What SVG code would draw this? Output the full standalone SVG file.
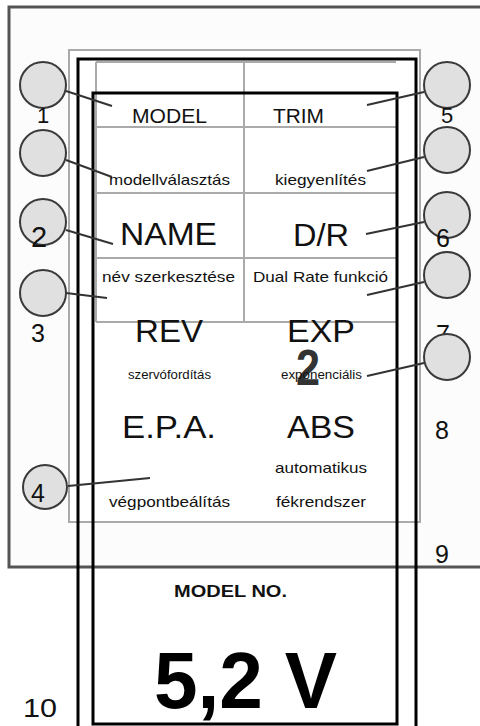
<svg xmlns="http://www.w3.org/2000/svg" width="480" height="726" viewBox="0 0 480 726">
<style>
text{font-family:"Liberation Sans",Arial,sans-serif;fill:#111}
.big{font-size:32px}
.mid{font-size:20px}
.sm{font-size:15px}
.xs{font-size:12px}
.num{font-size:25px}
.btn{fill:#e0e0e0;stroke:#3a3a3a;stroke-width:2}
.con{stroke:#333;stroke-width:2;fill:none}
.grid{stroke:#aaa;stroke-width:2;fill:none}
.blk{stroke:#000;stroke-width:3;fill:none}
</style>
<rect width="480" height="726" fill="#fff"/>
<g id="frame">
<path d="M482,7 H9 V567 H482" fill="#fcfcfc" stroke="#555" stroke-width="3"/>
<rect x="69" y="50" width="351" height="472" fill="#fff" stroke="#aaa" stroke-width="2"/>
</g>
<g id="grid">
<path class="grid" d="M96,62 H396 M96,127 H396 M96,193 H396 M96,258 H396 M96,322 H396 M96,62 V322 M244,62 V322"/>
</g>
<g id="display">
<path class="blk" d="M78,726 V59 H416 V726"/>
<rect class="blk" x="93" y="93" width="304" height="631"/>
</g>
<g id="connectors">
<line class="con" x1="66" y1="91" x2="112" y2="106"/>
<line class="con" x1="66" y1="160" x2="112" y2="177"/>
<line class="con" x1="66" y1="230" x2="113" y2="244"/>
<line class="con" x1="66" y1="293" x2="107" y2="298"/>
<line class="con" x1="68" y1="486" x2="150" y2="478"/>
<line class="con" x1="424" y1="92" x2="367" y2="105"/>
<line class="con" x1="424" y1="157" x2="367" y2="171"/>
<line class="con" x1="424" y1="222" x2="366" y2="234"/>
<line class="con" x1="424" y1="282" x2="367" y2="295"/>
<line class="con" x1="424" y1="363" x2="367" y2="376"/>
</g>
<g id="btn1"><circle class="btn" cx="43" cy="85" r="23"/><text class="num" x="37" y="123" style="font-size:22px">1</text></g>
<g id="btn1b"><circle class="btn" cx="43" cy="153" r="23"/></g>
<g id="btn2"><circle class="btn" cx="43" cy="222" r="23"/><text class="num" x="31" y="247" style="font-size:29px">2</text></g>
<g id="btn3"><circle class="btn" cx="43" cy="293" r="23"/><text class="num" x="31" y="342">3</text></g>
<g id="btn4"><circle class="btn" cx="45" cy="487" r="22"/><text class="num" x="31" y="502">4</text></g>
<g id="btn5"><circle class="btn" cx="447" cy="85" r="23"/><text class="num" x="441" y="123" style="font-size:22px">5</text></g>
<g id="btn5b"><circle class="btn" cx="447" cy="150" r="23"/></g>
<g id="btn6"><circle class="btn" cx="447" cy="215" r="23"/><text class="num" x="436" y="247">6</text></g>
<g id="btn7b"><circle class="btn" cx="447" cy="275" r="23"/><text class="num" x="436" y="343">7</text></g>
<g id="btn7"><circle class="btn" cx="447" cy="357" r="23"/></g>
<g id="lbl8"><text class="num" x="435" y="439">8</text></g>
<g id="lbl9"><text class="num" x="435" y="563">9</text></g>
<g id="lbl10"><text class="num" x="23" y="717" textLength="34" lengthAdjust="spacingAndGlyphs">10</text></g>
<g id="cell-model">
<text class="mid" x="132" y="123" textLength="75" lengthAdjust="spacingAndGlyphs">MODEL</text>
<text class="sm" x="109" y="185" textLength="121" lengthAdjust="spacingAndGlyphs">modellválasztás</text>
</g>
<g id="cell-trim">
<text class="mid" x="273" y="123" textLength="51" lengthAdjust="spacingAndGlyphs">TRIM</text>
<text class="sm" x="275" y="185" textLength="91" lengthAdjust="spacingAndGlyphs">kiegyenlítés</text>
</g>
<g id="cell-name">
<text class="big" x="120" y="245" textLength="97" lengthAdjust="spacingAndGlyphs">NAME</text>
<text class="sm" x="102" y="282" textLength="133" lengthAdjust="spacingAndGlyphs">név szerkesztése</text>
</g>
<g id="cell-dr">
<text class="big" x="293" y="246" textLength="56" lengthAdjust="spacingAndGlyphs">D/R</text>
<text class="sm" x="253" y="282" textLength="135" lengthAdjust="spacingAndGlyphs">Dual Rate funkció</text>
</g>
<g id="cell-rev">
<text class="big" x="135" y="342" textLength="68" lengthAdjust="spacingAndGlyphs">REV</text>
<text class="xs" x="128" y="379" textLength="83" lengthAdjust="spacingAndGlyphs">szervófordítás</text>
</g>
<g id="cell-exp">
<text class="big" x="287" y="342" textLength="68" lengthAdjust="spacingAndGlyphs">EXP</text>
<text x="296" y="385" style="font-size:50px;font-weight:bold;fill:#333" textLength="24" lengthAdjust="spacingAndGlyphs">2</text>
<text class="xs" x="281" y="379" textLength="81" lengthAdjust="spacingAndGlyphs">exponenciális</text>
</g>
<g id="cell-epa">
<text class="big" x="122" y="438" textLength="94" lengthAdjust="spacingAndGlyphs">E.P.A.</text>
<text class="sm" x="109" y="507" textLength="121" lengthAdjust="spacingAndGlyphs">végpontbeálítás</text>
</g>
<g id="cell-abs">
<text class="big" x="287" y="438" textLength="68" lengthAdjust="spacingAndGlyphs">ABS</text>
<text class="sm" x="275" y="473" textLength="92" lengthAdjust="spacingAndGlyphs">automatikus</text>
<text class="sm" x="276" y="507" textLength="90" lengthAdjust="spacingAndGlyphs">fékrendszer</text>
</g>
<g id="lcd">
<text x="174" y="597" style="font-size:17px;font-weight:bold" textLength="113" lengthAdjust="spacingAndGlyphs">MODEL NO.</text>
<text x="154" y="708" style="font-size:80px;font-weight:bold;fill:#000" textLength="183" lengthAdjust="spacingAndGlyphs">5,2 V</text>
</g>
</svg>
